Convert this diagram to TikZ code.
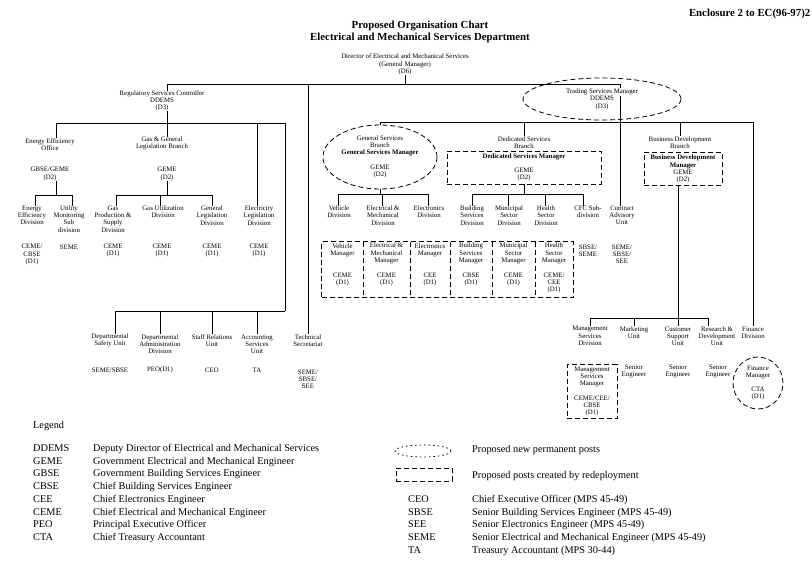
\documentclass[tikz,border=0pt]{standalone}
\usepackage{fontspec}
\setmainfont{Liberation Serif}
\usetikzlibrary{shapes.geometric,fit}
\begin{document}
\begin{tikzpicture}[x=1pt,y=-1pt,
  txt/.style={align=center,inner sep=0pt,font=\fontsize{6.8}{7.2}\selectfont},
  ln/.style={line width=0.9pt},
  dsh/.style={line width=0.8pt,dash pattern=on 5pt off 3pt},
  dbox/.style={draw,dsh,rectangle,inner sep=0pt},
  dell/.style={draw,dsh,ellipse,inner sep=0pt},
  cellbox/.style={rectangle,inner sep=0pt,minimum height=55pt},
  lg/.style={anchor=base west,inner sep=0pt,font=\fontsize{10.3}{12.7}\selectfont},
]
\useasboundingbox (0,0) rectangle (812,567);

% ---------- header ----------
\node[anchor=east,inner sep=0pt,font=\fontsize{10.8}{12}\selectfont\bfseries] (enc) at (810.5,14) {Enclosure 2 to EC(96-97)2};
\node[align=center,inner sep=0pt,font=\fontsize{10.8}{12}\selectfont\bfseries] (title) at (420,32) {Proposed Organisation Chart\\Electrical and Mechanical Services Department};
\node[txt] (dir) at (405,64.5) {Director of Electrical and Mechanical Services\\(General Manager)\\(D6)};
\coordinate (tL) at (167,84);
\coordinate (tR) at (620,84);
\coordinate (tT) at (308,84);
\draw[ln] (dir.south) -- (dir.south |- tL);
\draw[ln] (tL) -- (tR);

% ---------- regulatory ----------
\node[txt] (rsc) at (162,101) {Regulatory Services Controller\\DDEMS\\(D3)};
\draw[ln] (tL) -- (tL |- rsc.north);
\coordinate (rJ) at (167,123);
\coordinate (rL) at (56,123);
\coordinate (rR) at (285,123);
\coordinate (rE) at (257,123);
\draw[ln] (rJ |- rsc.south) -- (rJ);
\draw[ln] (rL) -- (rR);

\node[txt] (eeo) at (50,144.5) {Energy Efficiency\\Office};
\node[txt] (eeoc) at (50,174) {GBSE/GEME\\(D2)};
\draw[ln] (rL) -- (rL |- eeo.north);
\coordinate (eJ) at (56,195);
\coordinate (e1) at (35,195);
\coordinate (e2) at (72,195);
\draw[ln] (eJ |- eeoc.south) -- (eJ);
\node[txt] (eed) at (32,215.5) {Energy\\Efficiency\\Division};
\node[txt] (eedc) at (32,254.5) {CEME/\\CBSE\\(D1)};
\node[txt] (umd) at (69,219) {Utility\\Monitoring\\Sub\\division};
\node[txt] (umdc) at (69,247) {SEME};
\draw[ln] (e1) -- (e2);
\draw[ln] (e1) -- (e1 |- eed.north);
\draw[ln] (e2) -- (e2 |- umd.north);

\node[txt] (ggb) at (162,143.5) {Gas \& General\\Legislation Branch};
\draw[ln] (rJ) -- (rJ |- ggb.north);
\node[txt] (ggbc) at (167,174) {GEME\\(D2)};
\coordinate (gJ) at (167,195);
\coordinate (g1) at (116,195);
\coordinate (g2) at (160,195);
\coordinate (g3) at (212,195);
\draw[ln] (gJ |- ggbc.south) -- (gJ);
\node[txt] (gps) at (113,219) {Gas\\Production \&\\Supply\\Division};
\node[txt] (gpsc) at (113,250.5) {CEME\\(D1)};
\node[txt] (gud) at (163,212) {Gas Utilization\\Division};
\node[txt] (gudc) at (162,250.5) {CEME\\(D1)};
\node[txt] (gld) at (212,215.5) {General\\Legislation\\Division};
\node[txt] (gldc) at (212,250.5) {CEME\\(D1)};
\draw[ln] (g1) -- (g3);
\draw[ln] (g1) -- (g1 |- gps.north);
\draw[ln] (g2) -- (g2 |- gud.north);
\draw[ln] (g3) -- (g3 |- gld.north);

\node[txt] (eld) at (259,215.5) {Electricity\\Legislation\\Division};
\node[txt] (eldc) at (259,250.5) {CEME\\(D1)};
\draw[ln] (rE) -- (rE |- eld.north);

% bottom units of regulatory
\coordinate (bJ) at (285,311);
\coordinate (b1) at (115,311);
\coordinate (b2) at (160,311);
\coordinate (b3) at (212,311);
\coordinate (b4) at (257,311);
\draw[ln] (rR) -- (bJ);
\draw[ln] (b1) -- (bJ);
\node[txt] (dsu) at (110,340.5) {Departmental\\Safety Unit};
\node[txt] (dsuc) at (110,370) {SEME/SBSE};
\node[txt] (dad) at (160,344) {Departmental\\Administration\\Division};
\node[txt] (dadc) at (160,370) {PEO(D1)};
\node[txt] (sru) at (212,340.5) {Staff Relations\\Unit};
\node[txt] (sruc) at (212,370) {CEO};
\node[txt] (asu) at (257,344) {Accounting\\Services\\Unit};
\node[txt] (asuc) at (257,370) {TA};
\draw[ln] (b1) -- (b1 |- dsu.north);
\draw[ln] (b2) -- (b2 |- dad.north);
\draw[ln] (b3) -- (b3 |- sru.north);
\draw[ln] (b4) -- (b4 |- asu.north);

\node[txt] (tsec) at (308,340.5) {Technical\\Secretariat};
\node[txt] (tsecc) at (308,379) {SEME/\\SBSE/\\SEE};
\draw[ln] (tT) -- (tT |- tsec.north);

% ---------- trading ----------
\node[txt] (cau) at (622,215.5) {Contract\\Advisory\\Unit};
\node[txt] (cauc) at (622,254.5) {SEME/\\SBSE/\\SEE};
\draw[ln] (tR) -- (tR |- cau.north);
\node[txt,dell,minimum width=158pt,minimum height=42pt] (tsm) at (602,99) {{\fboxsep=0.6pt\colorbox{white}{Trading Services Manager}}\\DDEMS\\(D3)};

\coordinate (sL) at (380,122);
\coordinate (sR) at (753,122);
\draw[ln] (sL) -- (sR);

% general services
\node[txt,dell,minimum width=114pt,minimum height=64pt] (gsb) at (380,157) {General Services\\Branch\\\textbf{General Services Manager}\\[7.5pt]GEME\\(D2)};
\draw[ln] (sL) -- (sL |- gsb.north);
\coordinate (gsJ) at (380,194);
\coordinate (gs1) at (338,194);
\coordinate (gs2) at (382,194);
\coordinate (gs3) at (428,194);
\draw[ln] (gsb.south) -- (gsJ);
\draw[ln] (gs1) -- (gs3);
\node[txt] (vd) at (339,212) {Vehicle\\Division};
\node[txt] (emd) at (383,215.5) {Electrical \&\\Mechanical\\Division};
\node[txt] (ed) at (429,212) {Electronics\\Division};
\draw[ln] (gs1) -- (gs1 |- vd.north);
\draw[ln] (gs2) -- (gs2 |- emd.north);
\draw[ln] (gs3) -- (gs3 |- ed.north);

% manager cells
\node[cellbox,minimum width=41pt] (c1) at (342.5,269.5) {};
\node[cellbox,minimum width=47pt] (c2) at (386.5,269.5) {};
\node[cellbox,minimum width=40pt] (c3) at (430,269.5) {};
\node[cellbox,minimum width=42pt] (c4) at (471,269.5) {};
\node[cellbox,minimum width=43pt] (c5) at (513.5,269.5) {};
\node[cellbox,minimum width=38pt] (c6) at (554,269.5) {};
\node[dbox,fit=(c1)(c6)] (crow) {};
\foreach \c in {c1,c2,c3,c4,c5} \draw[dsh] (\c.north east) -- (\c.south east);
\node[txt] (c1t) at (342.5,250) {Vehicle\\Manager};
\node[txt] (c1c) at (342.5,279.5) {CEME\\(D1)};
\node[txt] (c2t) at (386.5,253.5) {Electrical \&\\Mechanical\\Manager};
\node[txt] (c2c) at (386.5,279.5) {CEME\\(D1)};
\node[txt] (c3t) at (430,250) {Electronics\\Manager};
\node[txt] (c3c) at (430,279.5) {CEE\\(D1)};
\node[txt] (c4t) at (471,253.5) {Building\\Services\\Manager};
\node[txt] (c4c) at (471,279.5) {CBSE\\(D1)};
\node[txt] (c5t) at (513.5,253.5) {Municipal\\Sector\\Manager};
\node[txt] (c5c) at (513.5,279.5) {CEME\\(D1)};
\node[txt] (c6t) at (554,253.5) {Health\\Sector\\Manager};
\node[txt] (c6c) at (554,283) {CEME/\\CEE\\(D1)};

% dedicated services
\coordinate (dJ0) at (524,122);
\node[txt] (dsbt) at (524,142.5) {Dedicated Services\\Branch};
\draw[ln] (dJ0) -- (dJ0 |- dsbt.north);
\node[txt,dbox,minimum width=154pt,minimum height=33pt] (dsm) at (524,167.5) {\textbf{Dedicated Services Manager}\\[6pt]GEME\\(D2)};
\coordinate (dJ) at (524,194);
\coordinate (d1) at (472,194);
\coordinate (d2) at (508,194);
\coordinate (d3) at (545,194);
\coordinate (d4) at (583,194);
\draw[ln] (dsm.south) -- (dJ);
\draw[ln] (d1) -- (d4);
\node[txt] (bsd) at (472,215.5) {Building\\Services\\Division};
\node[txt] (msd) at (509,215.5) {Municipal\\Sector\\Division};
\node[txt] (hsd) at (546,215.5) {Health\\Sector\\Division};
\node[txt] (cfc) at (588,212) {CFC Sub-\\division};
\node[txt] (cfcc) at (588,250.5) {SBSE/\\SEME};
\draw[ln] (d1) -- (d1 |- bsd.north);
\draw[ln] (d2) -- (d2 |- msd.north);
\draw[ln] (d3) -- (d3 |- hsd.north);
\draw[ln] (d4) -- (d4 |- cfc.north);

% business development
\coordinate (bdJ0) at (680,122);
\node[txt] (bdbt) at (680,142.5) {Business Development\\Branch};
\draw[ln] (bdJ0) -- (bdJ0 |- bdbt.north);
\node[txt,dbox,minimum width=78pt,minimum height=33pt] (bdm) at (683,169) {\textbf{Business Development}\\\textbf{Manager}\\GEME\\(D2)};
\coordinate (mJ) at (678,318);
\coordinate (m1) at (590,318);
\coordinate (m2) at (634,318);
\coordinate (m4) at (708,318);
\draw[ln] (bdm.south -| mJ) -- (mJ);
\draw[ln] (m1) -- (m4);
\node[txt] (msdv) at (590,336) {Management\\Services\\Division};
\node[txt] (mu) at (634,332.5) {Marketing\\Unit};
\node[txt] (csu) at (678,336) {Customer\\Support\\Unit};
\node[txt] (rdu) at (717,336) {Research \&\\Development\\Unit};
\draw[ln] (m1) -- (m1 |- msdv.north);
\draw[ln] (m2) -- (m2 |- mu.north);
\draw[ln] (mJ) -- (mJ |- csu.north);
\draw[ln] (m4) -- (m4 |- rdu.north);
\node[txt] (fd) at (753,332.5) {Finance\\Division};
\draw[ln] (sR) -- (sR |- fd.north);

\node[txt,dbox,minimum width=50pt,minimum height=54pt] (msm) at (592,391.5) {Management\\Services\\Manager\\[7.8pt]CEME/CEE/\\CBSE\\(D1)};
\node[txt] (muc) at (634,371.5) {Senior\\Engineer};
\node[txt] (csuc) at (678,371.5) {Senior\\Engineer};
\node[txt] (rduc) at (718,371.5) {Senior\\Engineer};
\node[txt,dell,minimum width=50pt,minimum height=52pt] (fm) at (758,383) {Finance\\Manager\\[6pt]CTA\\(D1)};

% ---------- legend ----------
\node[lg] (lgt) at (33,428) {Legend};
\node[lg] (la1) at (33,451.5) {DDEMS};  \node[lg] (ld1) at (93,451.5) {Deputy Director of Electrical and Mechanical Services};
\node[lg] (la2) at (33,464.2) {GEME};   \node[lg] (ld2) at (93,464.2) {Government Electrical and Mechanical Engineer};
\node[lg] (la3) at (33,476.9) {GBSE};   \node[lg] (ld3) at (93,476.9) {Government Building Services Engineer};
\node[lg] (la4) at (33,489.6) {CBSE};   \node[lg] (ld4) at (93,489.6) {Chief Building Services Engineer};
\node[lg] (la5) at (33,502.3) {CEE};    \node[lg] (ld5) at (93,502.3) {Chief Electronics Engineer};
\node[lg] (la6) at (33,515.0) {CEME};   \node[lg] (ld6) at (93,515.0) {Chief Electrical and Mechanical Engineer};
\node[lg] (la7) at (33,527.7) {PEO};    \node[lg] (ld7) at (93,527.7) {Principal Executive Officer};
\node[lg] (la8) at (33,540.4) {CTA};    \node[lg] (ld8) at (93,540.4) {Chief Treasury Accountant};

\node[dell,dash pattern=on 1.5pt off 3pt,minimum width=56pt,minimum height=12pt] (sym1) at (423,451) {};
\node[lg] (sym1t) at (472,452.5) {Proposed new permanent posts};
\node[dbox,minimum width=56pt,minimum height=13pt] (sym2) at (424,474.5) {};
\node[lg] (sym2t) at (472,478) {Proposed posts created by redeployment};

\node[lg] (ra1) at (408,502.3) {CEO};   \node[lg] (rd1) at (472,502.3) {Chief Executive Officer (MPS 45-49)};
\node[lg] (ra2) at (408,515.0) {SBSE};  \node[lg] (rd2) at (472,515.0) {Senior Building Services Engineer (MPS 45-49)};
\node[lg] (ra3) at (408,527.7) {SEE};   \node[lg] (rd3) at (472,527.7) {Senior Electronics Engineer (MPS 45-49)};
\node[lg] (ra4) at (408,540.4) {SEME};  \node[lg] (rd4) at (472,540.4) {Senior Electrical and Mechanical Engineer (MPS 45-49)};
\node[lg] (ra5) at (408,553.1) {TA};    \node[lg] (rd5) at (472,553.1) {Treasury Accountant (MPS 30-44)};
\end{tikzpicture}
\end{document}
